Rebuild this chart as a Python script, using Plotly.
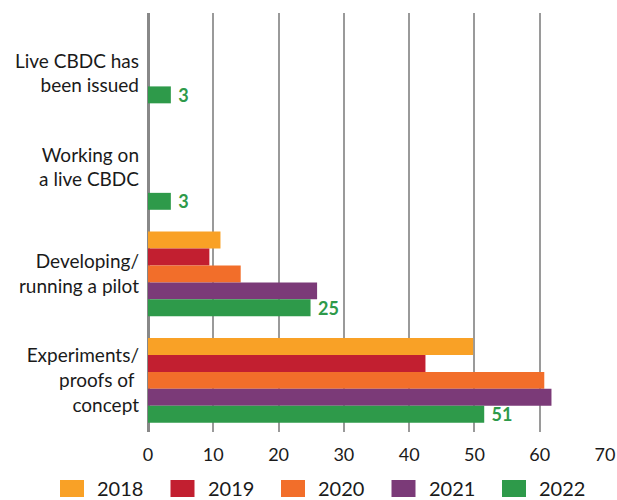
import plotly.graph_objects as go

categories = ["Live CBDC has been issued", "Working on a live CBDC",
              "Developing/running a pilot", "Experiments/proofs of concept"]
tick_text = [" <br>Live CBDC has<br>been issued", "Working on<br>a live CBDC",
             "Developing/<br>running a pilot", "Experiments/<br>proofs of <br>concept"]
years = ["2018", "2019", "2020", "2021", "2022"]
values = {
    "2018": [None, None, 11.1, 49.8],
    "2019": [None, None, 9.4, 42.5],
    "2020": [None, None, 14.2, 60.7],
    "2021": [None, None, 25.9, 61.8],
    "2022": [3.5, 3.5, 24.9, 51.5],
}
labels_2022 = ["3", "3", "25", "51"]
colors = {"2018": "#F9A126", "2019": "#C21F30", "2020": "#F26E2A",
          "2021": "#7B3A78", "2022": "#2E9A4A"}

W, H = 617, 500
L, R, T, B = 148, 12, 13, 68
pw, ph = W - L - R, H - T - B
FONT = "Lato"

fig = go.Figure()
for y in years:
    kw = {}
    if y == "2022":
        kw = dict(text=["\u00a0" + t for t in labels_2022], textposition="outside",
                  textfont=dict(family=FONT, size=18, color=colors[y], weight="bold"),
                  constraintext="none", cliponaxis=False)
    fig.add_trace(go.Bar(y=categories, x=values[y], name=y, orientation="h",
                         marker=dict(color=colors[y], line=dict(width=0)),
                         showlegend=False, hoverinfo="skip", **kw))

# legend drawn as swatches + text below the axis
def px2x(p):
    return (p - L) / pw
def px2y(p):
    return (H - B - p) / ph

for i, y in enumerate(years):
    left = 60 + i * 110.5
    fig.add_shape(type="rect", xref="paper", yref="paper",
                  x0=px2x(left), x1=px2x(left + 24), y0=px2y(497), y1=px2y(480),
                  fillcolor=colors[y], line=dict(width=0))
    fig.add_annotation(xref="paper", yref="paper", x=px2x(left + 36), y=px2y(488),
                       text=y, showarrow=False, xanchor="left", yanchor="middle",
                       font=dict(family=FONT, size=20, color="#1a1a1a"),
                       borderpad=0)

fig.update_layout(
    width=W, height=H, margin=dict(l=L, r=R, t=T, b=B, autoexpand=False),
    paper_bgcolor="white", plot_bgcolor="white",
    barmode="group", bargap=0.205, bargroupgap=0,
    font=dict(family=FONT, size=19, color="#1a1a1a"),
    xaxis=dict(range=[0, 70], dtick=10, tick0=0, showgrid=True, gridcolor="#9a9a9a",
               gridwidth=1.5, zeroline=True, zerolinecolor="#888888", zerolinewidth=2.5,
               showline=False, ticks="", tickfont=dict(size=18), ticklabelstandoff=10,
               fixedrange=True),
    yaxis=dict(range=[3.485, -0.451], tickmode="array", tickvals=categories,
               ticktext=tick_text, showgrid=False, zeroline=False, ticks="",
               tickfont=dict(size=19), ticklabelstandoff=8, fixedrange=True),
)

fig.write_html("out.html", config={"displayModeBar": False},
               post_script="document.body.style.margin='0';document.body.style.padding='0';")
